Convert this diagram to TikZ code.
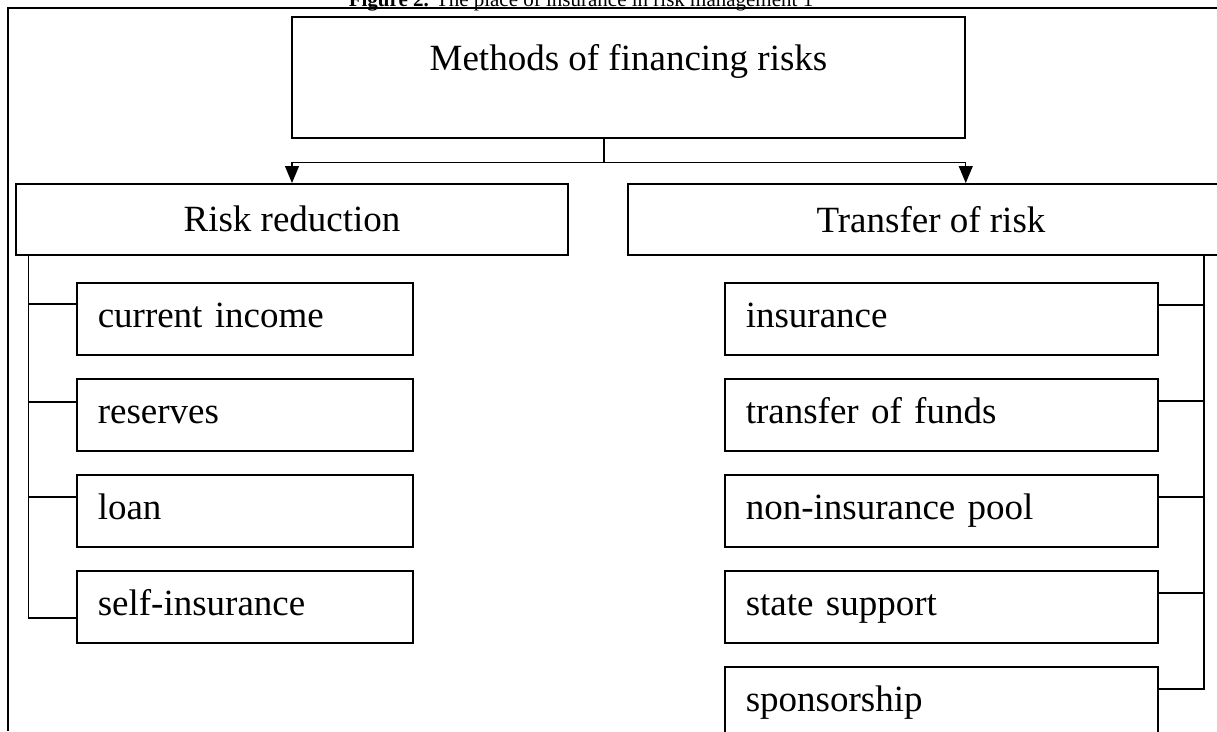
\documentclass[tikz,border=0pt]{standalone}
\usepackage{fontspec}
\setmainfont{Liberation Serif}
\usetikzlibrary{positioning,arrows.meta,calc}

\begin{document}
\begin{tikzpicture}[
  x=1pt, y=-1pt,
  node distance=22.5pt,
  boxline/.style={draw=black, line width=1.5pt},
  headbox/.style={boxline, minimum width=673pt, inner ysep=0pt, text height=54pt, text depth=67pt, font=\fontsize{37}{44}\selectfont},
  groupbox/.style={boxline, minimum height=71pt, font=\fontsize{37}{44}\selectfont},
  itembox/.style={boxline, minimum height=72pt, inner xsep=21pt, inner ysep=0pt, text height=26pt, text depth=8pt, align=left, font=\fontsize{37}{44}\selectfont},
  leftitem/.style={itembox, text width=294pt},
  rightitem/.style={itembox, text width=391pt},
  capt/.style={font=\fontsize{21}{25}\selectfont, inner sep=0pt},
  link/.style={line width=1.2pt},
  arr/.style={link, -{Triangle[length=17pt, width=14pt]}},
  frame/.style={line width=1.5pt}
]
\useasboundingbox (0,0) rectangle (1217,731);
\node[capt, anchor=base] (figcap) at (581,6) {\textbf{Figure 2.} The place of insurance in risk management 1};
\draw[frame] (8,731) -- (8,8) -- (1217,8);

\node[headbox, anchor=north] (methods) at (628.5,16) {Methods of financing risks};
\node[groupbox, minimum width=552pt, anchor=north] (reduce) at (292,183) {Risk reduction};
\node[groupbox, minimum width=606pt, anchor=north] (transfer) at (931,183) {Transfer of risk};

\node[leftitem, anchor=north west] (cur) at (76,282) {current income};
\node[leftitem, below=of cur] (res) {reserves};
\node[leftitem, below=of res] (loan) {loan};
\node[leftitem, below=of loan] (self) {self-insurance};

\node[rightitem, anchor=north west] (ins) at (724,282) {insurance};
\node[rightitem, below=of ins] (funds) {transfer of funds};
\node[rightitem, below=of funds] (pool) {non-insurance pool};
\node[rightitem, below=of pool] (state) {state support};
\node[rightitem, below=of state] (spons) {sponsorship};

\draw[link] ([xshift=-24.5pt]methods.south) -- ++(0,24) coordinate (split);
\draw[arr] (split) -| (reduce.north);
\draw[arr] (split) -| (transfer.north -| methods.south east);

\coordinate (ltrunk) at ([xshift=13pt]reduce.south west);
\foreach \b/\d in {cur/22,res/24,loan/23,self/48}
  \coordinate (\b-in) at ([yshift=-\d pt]\b.north west);
\draw[link] (ltrunk) -- (ltrunk |- self-in) -- (self-in);
\foreach \b in {cur,res,loan}
  \draw[link] (ltrunk |- \b-in) -- (\b-in);

\coordinate (rtrunk) at ([xshift=273pt]transfer.south);
\foreach \b in {ins,funds,pool,state,spons}
  \coordinate (\b-in) at ([yshift=-23pt]\b.north east);
\draw[link] (rtrunk) -- (rtrunk |- spons-in) -- (spons-in);
\foreach \b in {ins,funds,pool,state}
  \draw[link] (rtrunk |- \b-in) -- (\b-in);
\end{tikzpicture}
\end{document}
